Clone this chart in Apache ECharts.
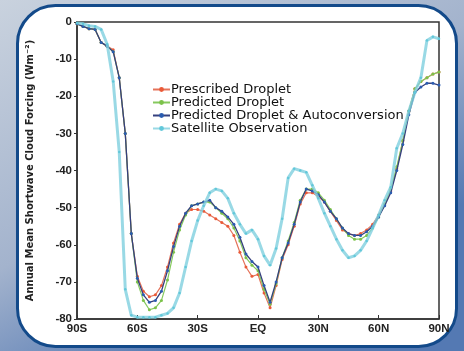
<!DOCTYPE html>
<html><head><meta charset="utf-8">
<script src="https://cdn.jsdelivr.net/npm/echarts@6/dist/echarts.min.js"></script>
<style>html,body{margin:0;padding:0;background:#fff}#c{width:464px;height:351px}</style>
</head><body><div id="c"></div>
<script>
const latitudes = [-90,-87,-84,-81,-78,-75,-72,-69,-66,-63,-60,-57,-54,-51,-48,-45,-42,-39,-36,-33,-30,-27,-24,-21,-18,-15,-12,-9,-6,-3,0,3,6,9,12,15,18,21,24,27,30,33,36,39,42,45,48,51,54,57,60,63,66,69,72,75,78,81,84,87,90];
const prescribedDroplet = [-0.5,-1.2,-1.8,-2,-5.5,-6.5,-7.5,-15,-30,-57,-68.5,-72.5,-74,-73.5,-71,-66,-59.5,-54.5,-51.5,-50.5,-50.5,-51,-52,-53,-54,-55,-57.5,-62,-66,-68.5,-68,-73,-77,-71,-64,-60,-55,-49,-46,-46,-47,-48.5,-51,-53.5,-56,-57,-57.5,-57,-56,-54.5,-52,-49,-45.5,-39.5,-32,-24,-18,-16,-15,-14,-13.5];
const predictedDroplet = [-0.5,-1.2,-1.8,-2,-5.5,-6.5,-8,-15,-30,-57,-70,-75,-77.5,-77,-75,-69.5,-62,-56,-52,-49.5,-49,-48.5,-48.5,-50,-51.5,-53,-55.5,-59,-63.5,-65.5,-67,-72,-76,-70.5,-63.5,-59,-54,-48,-45,-45,-46,-48,-50.5,-53,-55.5,-57.5,-58.5,-58.5,-57.5,-55.5,-52.5,-49,-45,-39,-32,-24,-18,-16,-15,-14,-13.5];
const predictedAutoconversion = [-0.5,-1.2,-1.8,-2,-5.5,-6.5,-8,-15,-30,-57,-69,-73.5,-75.5,-75,-72.5,-67,-60.5,-55,-51.5,-49.5,-49,-48.5,-48,-50,-51,-52.5,-54.5,-58,-62.5,-64.5,-66,-71,-75.5,-70,-63.5,-59.5,-54.5,-48.5,-45,-45.5,-46.5,-48.5,-51,-53,-55.5,-57,-57.5,-57.5,-56.5,-55,-52.5,-49.5,-46,-40,-33,-25,-19,-17.5,-16.5,-16.5,-17];
const satelliteObservation = [-0.3,-0.5,-1,-1.2,-2,-6,-16,-35,-72,-79,-79.5,-79.5,-79.5,-79.5,-79,-78.5,-77,-73,-66,-59,-53.5,-49.5,-46,-45,-45.5,-47.5,-51.5,-54.5,-57,-56,-58.5,-63,-65.5,-61,-53,-42,-39.5,-40,-40.5,-44,-47.5,-51.5,-55,-58.5,-61.5,-63.5,-63,-61.5,-59,-55.5,-52,-48,-44.5,-34,-30,-24,-19,-15,-5,-4,-4.5];
const seriesNames = ['Prescribed Droplet','Predicted Droplet','Predicted Droplet & Autoconversion','Satellite Observation'];
const xTickLabels = {'-90':'90S','-60':'60S','-30':'30S','0':'EQ','30':'30N','60':'60N','90':'90N'};
const yAxisTitle = 'Annual Mean Shortwave Cloud Forcing (Wm\u207B\u00B2)';

function pairs(arr){ return latitudes.map((l,i)=>[l,arr[i]]); }
const chart = echarts.init(document.getElementById('c'), null, {renderer:'canvas'});
const colors = ['#ea5a38','#7cc24a','#2a5cb0','#62c8da'];
const lineColors = ['#e5735a','#86c95e','#35407e','#7fd0de'];
function mk(idx, data, width, sym){
  return {
    name: seriesNames[idx], type:'line', data: pairs(data),
    symbol:'circle', symbolSize: sym, showSymbol:true,
    itemStyle:{color:colors[idx]},
    lineStyle:{color:lineColors[idx], width:width},
    z: 2+idx, animation:false
  };
}
chart.setOption({
  animation:false,
  graphic:[
    {type:'rect', z:-10, silent:true, shape:{x:0,y:0,width:464,height:351},
     style:{fill:new echarts.graphic.LinearGradient(0,0,0.4,1,[{offset:0,color:'#c9d2de'},{offset:0.6,color:'#a3b3cd'},{offset:1,color:'#5479b3'}])}},
    {type:'rect', z:-9, silent:true, shape:{x:17.5,y:5.5,width:439,height:341,r:38},
     style:{fill:'#ffffff', stroke:'#134a8a', lineWidth:3}}
  ],
  grid:{left:77, right:25, top:22, bottom:32, show:true, borderColor:'#333', borderWidth:1.5, backgroundColor:'transparent'},
  legend:{
    orient:'vertical', left:147, top:78, itemWidth:17, itemHeight:6, itemGap:0,
    data: seriesNames,
    textStyle:{fontFamily:'DejaVu Sans', fontSize:13, color:'#111', lineHeight:13, padding:[0,0,0,-4]}
  },
  xAxis:{
    type:'value', min:-90, max:90, interval:30,
    axisLine:{show:true, onZero:false, lineStyle:{color:'#333', width:1.5}},
    axisTick:{show:true, inside:true, length:4, lineStyle:{color:'#333'}},
    splitLine:{show:false},
    axisLabel:{formatter:v=>xTickLabels[String(v)]||'', color:'#222', fontFamily:'Liberation Sans', fontSize:11.5, fontWeight:'bold', margin:4}
  },
  yAxis:{
    type:'value', min:-80, max:0, interval:10,
    name: yAxisTitle, nameLocation:'middle', nameGap:42, nameRotate:90,
    nameTextStyle:{fontFamily:'DejaVu Sans', fontSize:10, color:'#222', fontWeight:'bold'},
    axisLine:{show:true, onZero:false, lineStyle:{color:'#333', width:1.5}},
    axisTick:{show:true, length:3, lineStyle:{color:'#333'}},
    splitLine:{show:false},
    axisLabel:{color:'#222', fontFamily:'Liberation Sans', fontSize:11.5, fontWeight:'bold', margin:5}
  },
  series:[
    mk(0, prescribedDroplet, 1.2, 3),
    mk(1, predictedDroplet, 1.2, 3),
    mk(2, predictedAutoconversion, 1.3, 3),
    Object.assign(mk(3, satelliteObservation, 3, 2.5), {lineStyle:{color:'#7fd0de', width:3, opacity:0.8}})
  ]
});
</script></body></html>
